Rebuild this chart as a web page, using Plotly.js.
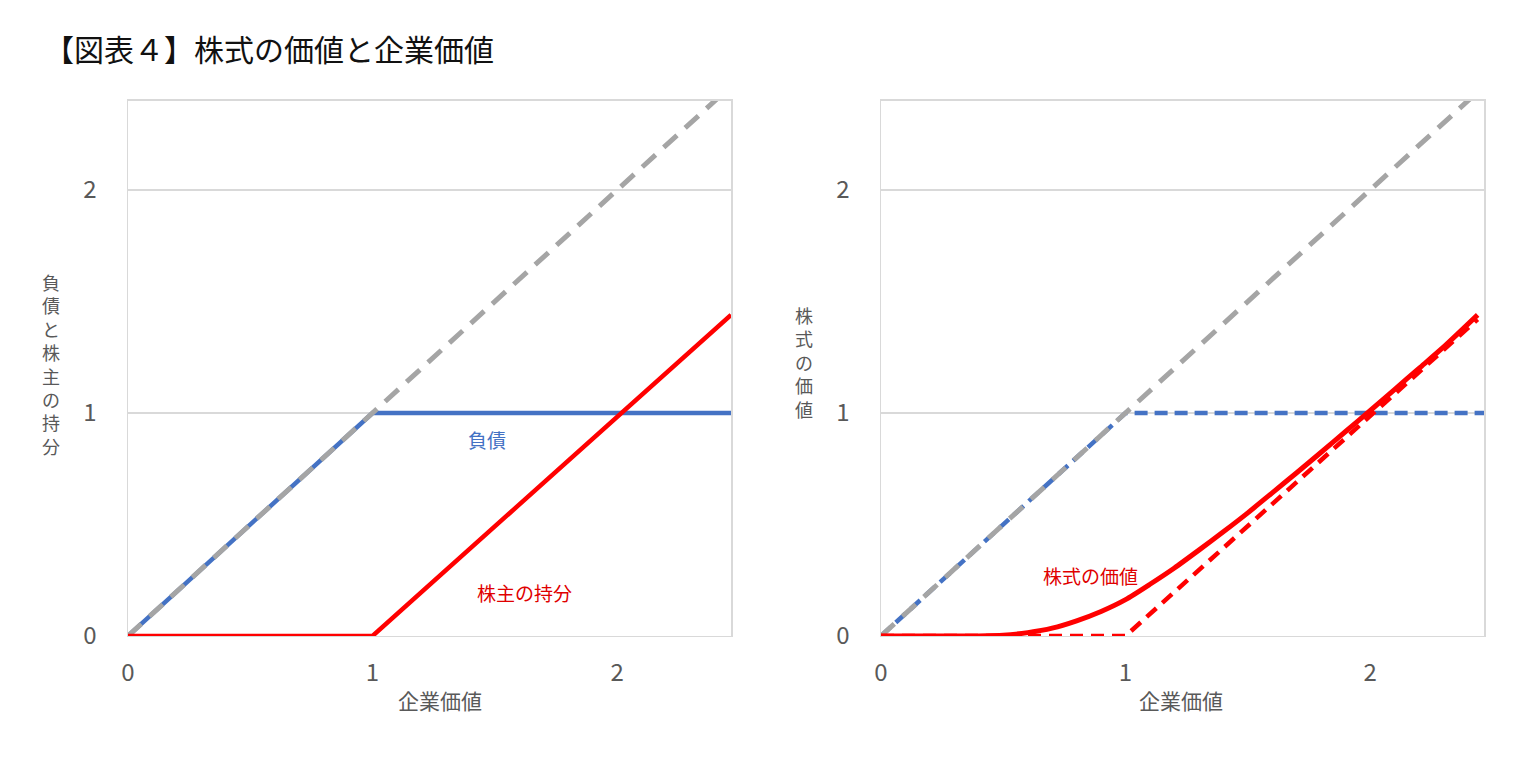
<!DOCTYPE html>
<html>
<head>
<meta charset="utf-8">
<script src="https://cdn.plot.ly/plotly-3.0.1.min.js"></script>
<style>
  html, body { margin: 0; padding: 0; background: #fff; }
  #chart { width: 1531px; height: 758px; }
</style>
</head>
<body>
<div id="chart"></div>
<script>
// values
const firmX = [0, 2.42];
const firmY = [0, 2.42];

const debtX = [0, 1, 2.466];
const debtY = [0, 1, 1];

const payoffX = [0, 1, 2.466];
const payoffY = [0, 0, 1.44];

const dashedPayoffX = [0, 1, 2.44];
const dashedPayoffY = [0, 0, 1.42];

const stockX = [0, 0.1, 0.2, 0.3, 0.4, 0.5, 0.6, 0.7, 0.8, 0.9, 1.0, 1.1, 1.2, 1.3, 1.4, 1.5, 1.6, 1.7, 1.8, 1.9, 2.0, 2.1, 2.2, 2.3, 2.44];
const stockY = [0, 0, 0, 0, 0, 0.003, 0.015, 0.035, 0.068, 0.11, 0.163, 0.232, 0.305, 0.385, 0.467, 0.552, 0.642, 0.732, 0.824, 0.917, 1.01, 1.105, 1.2, 1.295, 1.44];

const xTicks = [0, 1, 2];
const yTicks = [0, 1, 2];

const xTitle = '企業価値';
const leftYTitle = '負債と株主の持分';
const rightYTitle = '株式の価値';

const BLUE = '#4472C4';
const RED = '#FF0000';
const GRAY = '#A5A5A5';
const FONT = '"Noto Sans CJK JP", "Noto Sans", sans-serif';

var traces = [
  // left chart
  { x: debtX, y: debtY, mode: 'lines', line: { color: BLUE, width: 4.5 }, xaxis: 'x', yaxis: 'y' },
  { x: firmX, y: firmY, mode: 'lines', line: { color: GRAY, width: 5, dash: '18px,11px' }, xaxis: 'x', yaxis: 'y' },
  { x: payoffX, y: payoffY, mode: 'lines', line: { color: RED, width: 4.5 }, xaxis: 'x', yaxis: 'y' },
  // right chart
  { x: debtX, y: debtY, mode: 'lines', line: { color: BLUE, width: 4.5, dash: '13px,7px' }, xaxis: 'x2', yaxis: 'y2' },
  { x: firmX, y: firmY, mode: 'lines', line: { color: GRAY, width: 5, dash: '18px,11px' }, xaxis: 'x2', yaxis: 'y2' },
  { x: dashedPayoffX, y: dashedPayoffY, mode: 'lines', line: { color: RED, width: 4.5, dash: '13px,8px' }, xaxis: 'x2', yaxis: 'y2' },
  { x: stockX, y: stockY, mode: 'lines', line: { color: RED, width: 5, shape: 'spline', smoothing: 0.6 }, xaxis: 'x2', yaxis: 'y2' }
];

function xAxis(domain, anchor) {
  return {
    domain: domain, anchor: anchor, range: [0, 2.466],
    tickvals: xTicks, ticktext: xTicks.map(String),
    showgrid: false, zeroline: false,
    showline: true, mirror: true, linecolor: '#D9D9D9', linewidth: 1.5,
    ticks: '', ticklabelstandoff: 15,
    tickfont: { size: 24, color: '#595959' }
  };
}
function yAxis(anchor) {
  return {
    domain: [0.161, 0.867], anchor: anchor, range: [0, 2.40],
    tickvals: yTicks, ticktext: yTicks.map(String),
    showgrid: true, gridcolor: '#D9D9D9', gridwidth: 1.2, zeroline: false,
    showline: true, mirror: true, linecolor: '#D9D9D9', linewidth: 1.5,
    ticks: '', ticklabelstandoff: 25,
    tickfont: { size: 24, color: '#595959' }
  };
}

function label(xref, yref, x, y, text, size, color) {
  return { xref: xref, yref: yref, x: x, y: y, text: text, showarrow: false,
    xanchor: 'center', yanchor: 'middle', font: { size: size, color: color } };
}

var annotations = [
  label('x', 'y', 1.47, 0.88, '負債', 19, BLUE),
  label('x', 'y', 1.62, 0.197, '株主の持分', 19, '#E00000'),
  label('x2', 'y2', 0.855, 0.27, '株式の価値', 19, '#E00000'),
  // x titles (the left one sits a little right of centre in the original)
  label('paper', 'paper', 440 / 1531, (758 - 700) / 758, xTitle, 21, '#595959'),
  label('paper', 'paper', 1181 / 1531, (758 - 700) / 758, xTitle, 21, '#595959'),
  // stacked axis titles, one character per line
  label('paper', 'paper', 51 / 1531, (758 - 364) / 758, leftYTitle.split('').join('<br>'), 18, '#595959'),
  label('paper', 'paper', 804 / 1531, (758 - 362) / 758, rightYTitle.split('').join('<br>'), 18, '#595959')
];

var layout = {
  width: 1531, height: 758,
  margin: { l: 0, r: 0, t: 0, b: 0 },
  paper_bgcolor: '#fff', plot_bgcolor: '#fff',
  showlegend: false,
  font: { family: FONT },
  title: {
    text: '【図表４】株式の価値と企業価値',
    xref: 'container', yref: 'container',
    x: 44 / 1531, xanchor: 'left',
    y: 1 - 50 / 758, yanchor: 'middle',
    font: { size: 30, color: '#111' }
  },
  xaxis: xAxis([128 / 1531, 731 / 1531], 'y'),
  yaxis: yAxis('x'),
  xaxis2: xAxis([881 / 1531, 1484 / 1531], 'y2'),
  yaxis2: yAxis('x2'),
  annotations: annotations
};

Plotly.newPlot('chart', traces, layout, { staticPlot: true });
</script>
</body>
</html>
